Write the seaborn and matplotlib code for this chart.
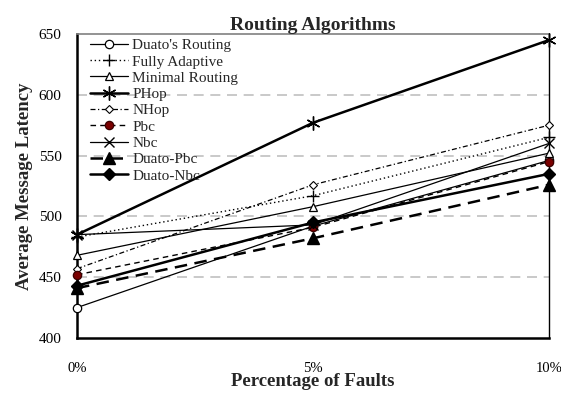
import matplotlib
matplotlib.use("Agg")
import matplotlib.pyplot as plt
import seaborn as sns
import numpy as np

sns.set_style("white")
plt.rcParams['font.family'] = ['Liberation Serif', 'DejaVu Serif']

categories = ["0%", "5%", "10%"]
duato = [425, 492, 546]
fully_adaptive = [483, 517, 565]
minimal = [468, 508, 552]
phop = [485, 577, 645]
nhop = [457, 526, 575]
pbc = [452, 491, 545]
nbc = [485, 493, 560]
duato_pbc = [441, 482, 526]
duato_nbc = [443, 495, 535]

series = [
    ("Duato's Routing", duato, dict(color="black", lw=0.9, ls="-", marker="o", mfc="white", mec="black", ms=6, mew=0.9)),
    ("Fully Adaptive", fully_adaptive, dict(color="black", lw=1.0, ls=(0, (1, 2)), marker="+", mec="black", ms=9, mew=1.0)),
    ("Minimal Routing", minimal, dict(color="black", lw=0.9, ls="-", marker="^", mfc="white", mec="black", ms=6, mew=0.9)),
    ("PHop", phop, dict(color="black", lw=1.8, ls="-", marker=(6, 2, 0), mec="black", ms=10, mew=1.0)),
    ("NHop", nhop, dict(color="black", lw=0.9, ls=(0, (4, 2, 1, 2)), marker="D", mfc="white", mec="black", ms=4.5, mew=0.8)),
    ("Pbc", pbc, dict(color="black", lw=1.0, ls=(0, (4, 3)), marker="o", mfc="#7a0000", mec="#3a0000", ms=6, mew=0.9)),
    ("Nbc", nbc, dict(color="black", lw=0.9, ls="-", marker="x", mec="black", ms=7, mew=1.0)),
    ("Duato-Pbc", duato_pbc, dict(color="black", lw=1.8, ls=(0, (5, 3)), marker="^", mfc="black", mec="black", ms=8, mew=1.0)),
    ("Duato-Nbc", duato_nbc, dict(color="black", lw=1.8, ls="-", marker="D", mfc="black", mec="black", ms=6, mew=1.0)),
]

fig = plt.figure(figsize=(5.61, 3.93), dpi=100)
ax = fig.add_axes([77 / 561, 1 - 338 / 393, (549 - 77) / 561, (338 - 34) / 393])

xpos = np.arange(len(categories))
for name, vals, st in series:
    sns.lineplot(x=xpos, y=vals, ax=ax, label=name, clip_on=False, zorder=3, **st)

ax.set_xlim(0, 2)
ax.set_ylim(400, 650)
ax.set_yticks([400, 450, 500, 550, 600, 650])
ax.set_xticks(xpos)
ax.set_xticklabels(categories)

for yv in [450, 500, 550, 600]:
    ax.axhline(yv, color="#c0c0c0", lw=1.2, ls=(0, (6, 4)), zorder=1)

ax.spines["left"].set_linewidth(1.8)
ax.spines["bottom"].set_linewidth(1.8)
ax.spines["right"].set_linewidth(1.0)
ax.spines["top"].set_color("#808080")
ax.spines["top"].set_linewidth(1.2)
for s in ax.spines.values():
    s.set_zorder(2)
ax.spines["left"].set_color("black")
ax.spines["bottom"].set_color("black")
ax.spines["right"].set_color("black")

ax.tick_params(axis="both", direction="out", length=5, width=1.2, labelsize=11, colors="black", pad=6)
ax.tick_params(axis="x", pad=12, labelsize=10.5)

ax.set_title("Routing Algorithms", fontsize=14, fontweight="bold", pad=3)
ax.set_xlabel("Percentage of Faults", fontsize=13.5, fontweight="bold", labelpad=-1)
ax.set_ylabel("Average Message Latency", fontsize=13.5, fontweight="bold", labelpad=4)

leg = ax.legend(loc="upper left", bbox_to_anchor=(0.0275, 0.985), frameon=False, fontsize=11,
                handlelength=2.5, handletextpad=0.28, labelspacing=0.17, borderaxespad=0, borderpad=0)

fig.savefig("out.png", dpi=100)
